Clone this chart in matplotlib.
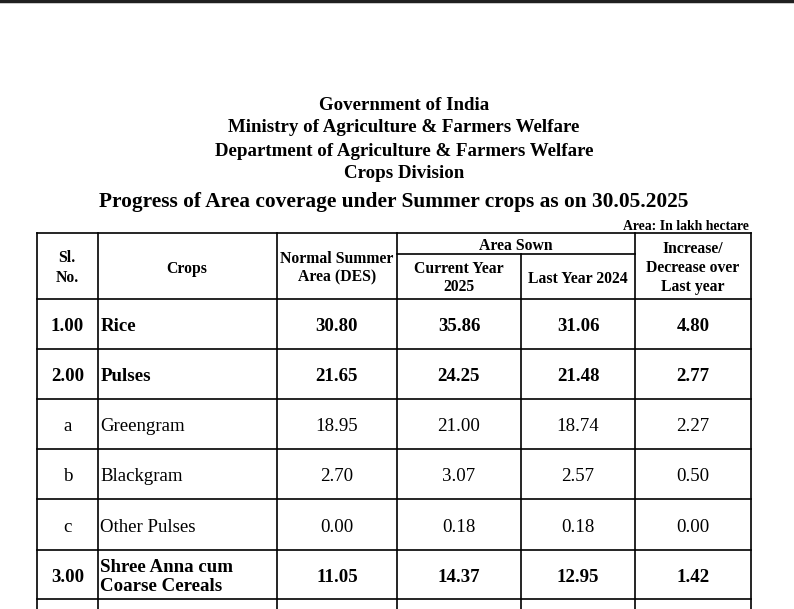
import matplotlib.pyplot as plt

# Table data (Area in lakh hectare)
sl_no = ['1.00', '2.00', 'a', 'b', 'c', '3.00']
crops = ['Rice', 'Pulses', 'Greengram', 'Blackgram', 'Other Pulses',
         'Shree Anna cum\nCoarse Cereals']
normal_area = [30.80, 21.65, 18.95, 2.70, 0.00, 11.05]
current_year = [35.86, 24.25, 21.00, 3.07, 0.18, 14.37]
last_year = [31.06, 21.48, 18.74, 2.57, 0.18, 12.95]
change = [4.80, 2.77, 2.27, 0.50, 0.00, 1.42]
bold_rows = [True, True, False, False, False, True]

headings = ['Government of India',
            'Ministry of Agriculture & Farmers Welfare',
            'Department of Agriculture & Farmers Welfare',
            'Crops Division']
title = 'Progress of Area coverage under Summer crops as on 30.05.2025'
unit_note = 'Area: In lakh hectare'

plt.rcParams['font.family'] = ['Liberation Serif', 'DejaVu Serif']

W, H = 794, 609
fig = plt.figure(figsize=(W / 100, H / 100), dpi=100)
ax = fig.add_axes([0, 0, 1, 1])
ax.set_xlim(0, W)
ax.set_ylim(H, 0)
ax.axis('off')

# dark strip at the very top of the page
ax.axhline(1, color='#202020', lw=2.5)

# headings
for i, line in enumerate(headings):
    ax.text(404, 105 + i * 23, line, ha='center', va='center',
            fontsize=13.6, fontweight='bold')
ax.text(394, 202, title, ha='center', va='center', fontsize=15.4, fontweight='bold')
ax.text(749, 226, unit_note, ha='right', va='center', fontsize=9.9, fontweight='bold')

# grid geometry
cols = [37, 98, 277, 397, 521, 635, 751]
top, sub = 233, 254
row_edges = [299, 349, 399, 449, 499, 550, 599]
lw = 1.2

ax.plot([cols[0], cols[-1]], [top, top], color='black', lw=lw)
ax.plot([cols[3], cols[5]], [sub, sub], color='black', lw=lw)
for y in row_edges:
    ax.plot([cols[0], cols[-1]], [y, y], color='black', lw=lw)
for i, x in enumerate(cols):
    y0 = sub if i == 4 else top
    ax.plot([x, x], [y0, H], color='black', lw=lw)

# header labels
hkw = dict(ha='center', va='center', fontsize=11.3, fontweight='bold', linespacing=1.22)
ax.text(67, 268, 'Sl.\nNo.', ha='center', va='center', fontsize=11.3,
        fontweight='bold', linespacing=1.4)
ax.text(187, 269, 'Crops', **hkw)
ax.text(337, 268, 'Normal Summer\nArea (DES)', **hkw)
ax.text(516, 246, 'Area Sown', **hkw)
ax.text(459, 278, 'Current Year\n2025', **hkw)
ax.text(578, 279, 'Last Year 2024', **hkw)
ax.text(693, 268, 'Increase/\nDecrease over\nLast year', **hkw)

# body rows
centers = [(cols[i] + cols[i + 1]) / 2 for i in range(len(cols) - 1)]
for r in range(len(crops)):
    yc = (row_edges[r] + row_edges[r + 1]) / 2 + 2.5
    wt = 'bold' if bold_rows[r] else 'normal'
    fs = 13.6
    ax.text(centers[0], yc, sl_no[r], ha='center', va='center', fontsize=fs, fontweight=wt)
    ax.text(100.5, yc, crops[r], ha='left', va='center', fontsize=fs, fontweight=wt,
            linespacing=1.2)
    for c, vals in enumerate([normal_area, current_year, last_year, change]):
        ax.text(centers[c + 2], yc, f'{vals[r]:.2f}', ha='center', va='center',
                fontsize=fs, fontweight=wt)

fig.savefig('out.png', dpi=100)
